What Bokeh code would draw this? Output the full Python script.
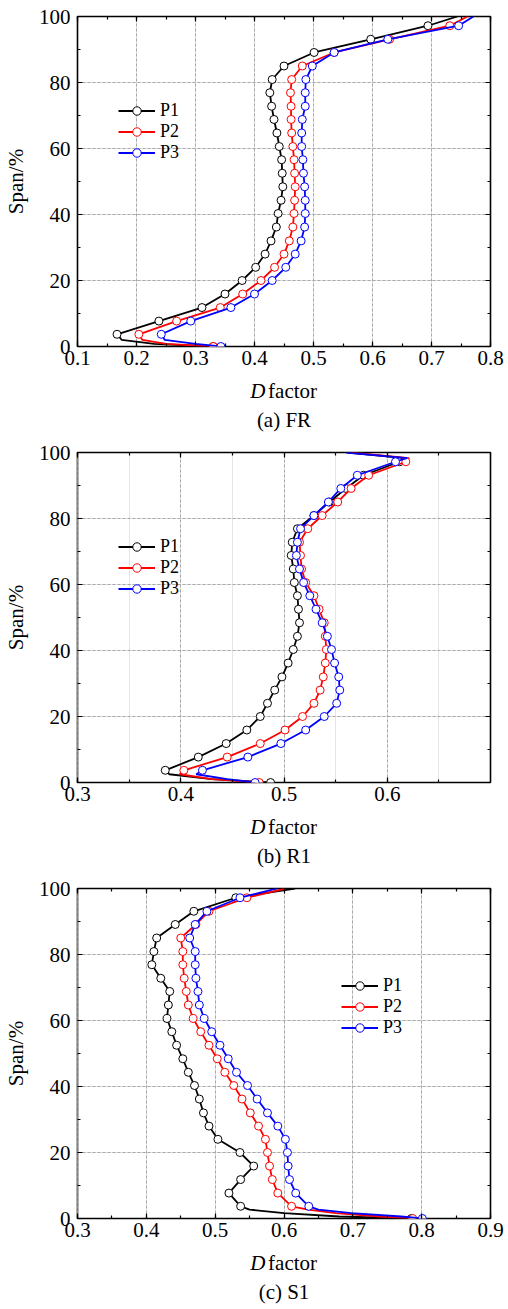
from bokeh.plotting import figure
from bokeh.models import (Range1d, LinearAxis, SingleIntervalTicker, Grid, Legend,
                          LegendItem)
from bokeh.core.properties import value
from bokeh.layouts import column
from bokeh.embed import file_html
from bokeh.resources import INLINE

FONT = "Liberation Serif"

# spanwise positions of the plotted markers (%)
SPAN = [0.0, 3.7, 7.7, 11.8, 15.9, 20.0, 24.0, 28.0, 32.0, 36.2, 40.3, 44.3, 48.4,
        52.5, 56.6, 60.6, 64.7, 68.8, 72.8, 76.9, 80.9, 85.0, 89.1, 93.1, 97.2]
SERIES = ["P1", "P2", "P3"]
COLORS = ["#000000", "#ff0000", "#0000ff"]

# ---- (a) FR ----
FR_P1 = [0.330, 0.167, 0.238, 0.311, 0.350, 0.379, 0.402, 0.418, 0.428, 0.437, 0.440, 0.445, 0.448,
         0.447, 0.446, 0.442, 0.438, 0.433, 0.429, 0.426, 0.430, 0.450, 0.501, 0.597, 0.694]
FR_P2 = [0.330, 0.204, 0.268, 0.342, 0.380, 0.411, 0.434, 0.450, 0.459, 0.465, 0.467, 0.468, 0.469,
         0.468, 0.467, 0.465, 0.463, 0.462, 0.462, 0.461, 0.463, 0.481, 0.535, 0.629, 0.731]
FR_P3 = [0.343, 0.242, 0.292, 0.360, 0.400, 0.430, 0.453, 0.469, 0.479, 0.485, 0.486, 0.486, 0.485,
         0.483, 0.482, 0.480, 0.480, 0.481, 0.486, 0.486, 0.487, 0.498, 0.535, 0.626, 0.746]
FR_HUB_SPAN = [0.8, 2.0]
FR_HUB = [[0.230, 0.175], [0.250, 0.210], [0.300, 0.248]]
FR_TIP_SPAN = [100.0]
FR_TIP = [[0.744], [0.761], [0.771]]

# ---- (b) R1 ----
R1_P1 = [0.487, 0.385, 0.417, 0.444, 0.464, 0.477, 0.484, 0.491, 0.498, 0.504, 0.509, 0.513, 0.515,
         0.514, 0.513, 0.510, 0.509, 0.507, 0.508, 0.513, 0.529, 0.544, 0.560, 0.577, 0.612]
R1_P2 = [0.476, 0.403, 0.445, 0.477, 0.501, 0.518, 0.529, 0.535, 0.538, 0.540, 0.541, 0.540, 0.539,
         0.534, 0.529, 0.521, 0.517, 0.516, 0.515, 0.523, 0.537, 0.552, 0.565, 0.582, 0.618]
R1_P3 = [0.472, 0.421, 0.465, 0.497, 0.521, 0.539, 0.551, 0.554, 0.553, 0.549, 0.546, 0.542, 0.537,
         0.531, 0.525, 0.519, 0.515, 0.512, 0.513, 0.516, 0.529, 0.543, 0.555, 0.571, 0.608]
R1_HUB_SPAN = [1.0, 2.5]
R1_HUB = [[0.430, 0.389], [0.430, 0.399], [0.445, 0.415]]
R1_TIP_SPAN = [98.3, 100.0]
R1_TIP = [[0.617, 0.562], [0.621, 0.565], [0.619, 0.560]]

# ---- (c) S1 ----
S1_P1 = [0.785, 0.537, 0.520, 0.537, 0.556, 0.536, 0.504, 0.491, 0.483, 0.477, 0.470, 0.461, 0.453,
         0.444, 0.437, 0.430, 0.432, 0.434, 0.421, 0.408, 0.411, 0.415, 0.442, 0.469, 0.530]
S1_P2 = [0.787, 0.611, 0.591, 0.583, 0.579, 0.576, 0.573, 0.563, 0.551, 0.539, 0.527, 0.514, 0.503,
         0.491, 0.479, 0.468, 0.461, 0.458, 0.455, 0.453, 0.453, 0.450, 0.472, 0.491, 0.546]
S1_P3 = [0.801, 0.636, 0.617, 0.608, 0.606, 0.605, 0.602, 0.591, 0.576, 0.561, 0.547, 0.531, 0.519,
         0.507, 0.495, 0.484, 0.477, 0.475, 0.472, 0.471, 0.471, 0.463, 0.471, 0.488, 0.536]
S1_HUB_SPAN = [0.6, 1.6, 2.7]
S1_HUB = [[0.680, 0.600, 0.550], [0.740, 0.675, 0.635], [0.770, 0.698, 0.650]]
S1_TIP_SPAN = [100.0]
S1_TIP = [[0.616], [0.602], [0.590]]

FS = "21px"
LEG_FS = "18px"


def style_axis(ax, labels=True):
    ax.axis_line_color = None
    ax.major_tick_in = 5
    ax.major_tick_out = 0
    ax.minor_tick_in = 3
    ax.minor_tick_out = 0
    ax.major_tick_line_color = "black"
    ax.minor_tick_line_color = "black"
    ax.major_tick_line_width = 1.2
    ax.minor_tick_line_width = 1.2
    ax.major_label_text_font = FONT
    if labels:
        ax.major_label_text_font_size = FS
        ax.major_label_text_color = "black"
    else:
        ax.major_label_text_font_size = "1px"
        ax.major_label_text_alpha = 0
        ax.major_label_standoff = 0


def make_panel(xr, vals, hub_span, hub, tip_span, tip, legend_loc):
    p = figure(width=508, height=376, x_range=Range1d(*xr), y_range=Range1d(0, 100),
               output_backend="svg", toolbar_location=None,
               x_axis_location=None, y_axis_location=None,
               min_border_left=74, min_border_right=18, min_border_top=16, min_border_bottom=30)
    p.outline_line_color = "black"
    p.outline_line_width = 1.6
    p.background_fill_color = "white"
    p.border_fill_color = "white"

    xt = SingleIntervalTicker(interval=0.1, num_minor_ticks=2)
    yt = SingleIntervalTicker(interval=20, num_minor_ticks=2)

    bottom = LinearAxis(ticker=xt)
    style_axis(bottom)
    bottom.major_label_standoff = 4
    top = LinearAxis(ticker=xt)
    style_axis(top, labels=False)
    left = LinearAxis(ticker=yt, axis_label="Span/%")
    style_axis(left)
    left.major_label_standoff = 7
    left.axis_label_text_font = FONT
    left.axis_label_text_font_size = FS
    left.axis_label_text_font_style = "normal"
    left.axis_label_text_color = "black"
    left.axis_label_standoff = 8
    right = LinearAxis(ticker=yt)
    style_axis(right, labels=False)
    p.add_layout(bottom, "below")
    p.add_layout(top, "above")
    p.add_layout(left, "left")
    p.add_layout(right, "right")

    for dim, tk in ((0, xt), (1, yt)):
        g = Grid(dimension=dim, ticker=tk)
        g.grid_line_color = "#a8a8a8"
        g.grid_line_dash = "3 2"
        g.grid_line_width = 1
        p.add_layout(g)

    items = []
    for name, col, v, h, t in zip(SERIES, COLORS, vals, hub, tip):
        ys = [SPAN[0]] + hub_span + SPAN[1:] + tip_span
        xs = [v[0]] + h + v[1:] + t
        lr = p.line(xs, ys, line_color=col, line_width=1.8)
        sr = p.scatter(v, SPAN, size=8, marker="circle", fill_color="white",
                       line_color=col, line_width=1.0)
        items.append(LegendItem(label=name, renderers=[lr, sr]))

    leg = Legend(items=items, location=legend_loc)
    leg.label_text_font = FONT
    leg.label_text_font_size = LEG_FS
    leg.label_text_color = "black"
    leg.label_standoff = 5
    leg.glyph_width = 37
    leg.glyph_height = 21
    leg.label_height = 21
    leg.spacing = 0
    leg.padding = 0
    leg.margin = 0
    leg.border_line_alpha = 0
    leg.background_fill_alpha = 0
    p.add_layout(leg)
    return p


def make_caption(caption):
    # text strip under a panel; its frame is aligned with the plot frame (x 74..490 px),
    # so 1 data unit = 1 pixel of the page
    t = figure(width=508, height=60, x_range=Range1d(74, 490), y_range=Range1d(0, 60),
               output_backend="svg", toolbar_location=None,
               x_axis_location=None, y_axis_location=None,
               min_border_left=74, min_border_right=18, min_border_top=0, min_border_bottom=0)
    t.outline_line_color = None
    t.grid.visible = False
    t.text(x=[248], y=[46], text=["D"], text_align="left", text_baseline="middle",
           text_font=value(FONT), text_font_size=FS, text_font_style="italic",
           text_color="black")
    t.text(x=[266], y=[46], text=["factor"], text_align="left", text_baseline="middle",
           text_font=value(FONT), text_font_size=FS, text_color="black")
    t.text(x=[282], y=[17], text=[caption], text_align="center", text_baseline="middle",
           text_font=value(FONT), text_font_size=FS, text_color="black")
    return t


pa = make_panel((0.1, 0.8), [FR_P1, FR_P2, FR_P3], FR_HUB_SPAN, FR_HUB, FR_TIP_SPAN, FR_TIP,
                (41, 183))
pb = make_panel((0.3, 0.7), [R1_P1, R1_P2, R1_P3], R1_HUB_SPAN, R1_HUB, R1_TIP_SPAN, R1_TIP,
                (41, 183))
pc = make_panel((0.3, 0.9), [S1_P1, S1_P2, S1_P3], S1_HUB_SPAN, S1_HUB, S1_TIP_SPAN, S1_TIP,
                (264, 180))

layout = column(pa, make_caption("(a) FR"), pb, make_caption("(b) R1"),
                pc, make_caption("(c) S1"), spacing=0)
open("out.html", "w").write(file_html(layout, INLINE))
